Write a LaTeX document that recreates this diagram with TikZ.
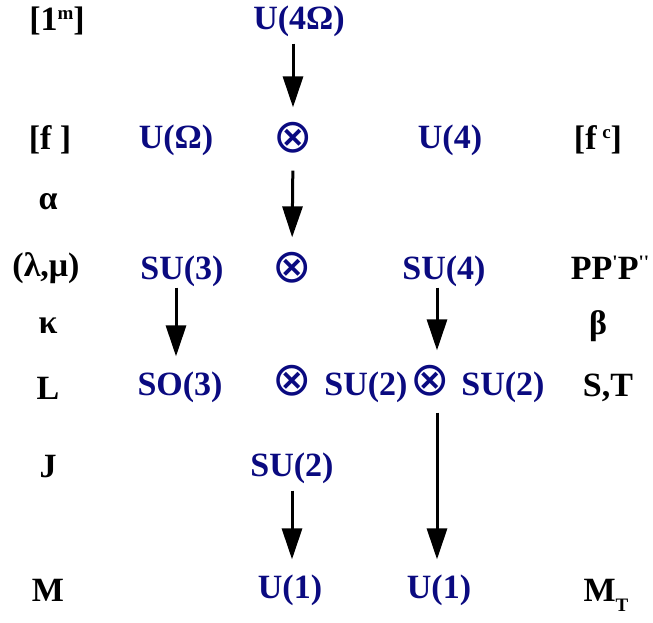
\documentclass[tikz,border=0pt]{standalone}
\usepackage{fontspec}
\setmainfont{Liberation Serif}
\newfontfamily\tickfont{Liberation Serif}[Ligatures=TeXOff]
\newfontfamily\opfont{DejaVu Sans}
\usetikzlibrary{arrows.meta}
\definecolor{GroupBlue}{RGB}{10,10,128}
\newcommand{\hi}[1]{\raisebox{11pt}{\fontsize{19}{20}\selectfont #1}}
\newcommand{\lo}[1]{\raisebox{-10pt}{\fontsize{19}{20}\selectfont #1}}
\tikzset{
  lbl/.style={inner sep=0pt, font=\fontsize{34}{40}\selectfont\bfseries},
  grp/.style={lbl, text=GroupBlue},
  otimes/.style={inner sep=0pt, text=GroupBlue, font=\fontsize{47}{50}\selectfont\opfont},
  arr/.style={-{Triangle[width=20pt,length=31pt]}, line width=3pt, shorten >=15pt}
}
\begin{document}
\begin{tikzpicture}[x=1pt,y=-1pt]
        \useasboundingbox (0,0) rectangle (653,622);
        \foreach \n/\x/\y/\t in {lOne/57/21/{[1\hi{m}]}, lf/50/140/{[f\ ]},
            lfc/598/140/{[f\,\hi{c}]}, lalpha/48/202/{α}, llm/46/268/{(λ,μ)},
            lppp/610/268/{PP\hi{\tickfont'}P\hi{\tickfont''}},
            lkappa/48/326/{κ}, lbeta/598/326/{β}, lL/48/388/{L}, lST/608/388/{S,T},
            lJ/48/467/{J}, lM/48/590/{M}, lMT/606/595/{M\lo{T}}}
          {\node[lbl] (\n) at (\x,\y) {\t};}
        \foreach \n/\x/\y/\t in {uFourOmega/299/21/{U(4Ω)}, uOmega/176/140/{U(Ω)},
            uFour/450/140/{U(4)}, suThree/182/271/{SU(3)}, suFour/444/271/{SU(4)},
            soThree/180/387/{SO(3)}, suTwoA/366/387/{SU(2)}, suTwoB/503/387/{SU(2)},
            suTwoJ/292/468/{SU(2)}, uOneA/290/590/{U(1)}, uOneB/439/590/{U(1)}}
          {\node[grp] (\n) at (\x,\y) {\t};}
        \foreach \n/\x/\y in {otA/293/138, otB/292/268, otC/292/381, otD/430/381}
          {\node[otimes] (\n) at (\x,\y) {⊗};}
        \draw[arr,shorten <=7pt] ([xshift=-6pt]uFourOmega.south) -- (otA.north);
        \draw[arr,shorten <=17pt] (otA.south) -- (otB.north);
        \draw[arr,shorten <=1pt] ([xshift=-6pt]suThree.south) -- ([xshift=-6pt]suThree.south |- soThree.north);
        \draw[arr,shorten <=1pt] ([xshift=-7pt]suFour.south) -- ([xshift=-7pt]suFour.south |- otD.north);
        \draw[arr,shorten <=16pt] ([xshift=7pt]otD.south) -- ([xshift=7pt]otD.south |- uOneB.north);
        \draw[arr,shorten <=7pt] (suTwoJ.south) -- (suTwoJ.south |- uOneA.north);
\end{tikzpicture}
\end{document}
